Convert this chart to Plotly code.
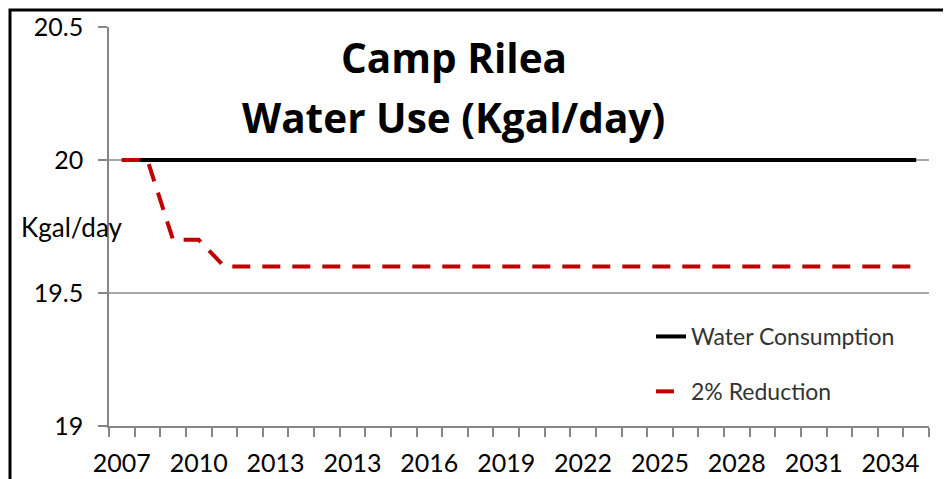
import plotly.graph_objects as go

# ---- data ----
year_labels = ["2007", "2008", "2009", "2010", "2011", "2012", "2013",
               "2011", "2012", "2013", "2014", "2015", "2016", "2017",
               "2018", "2019", "2020", "2021", "2022", "2023", "2024",
               "2025", "2026", "2027", "2028", "2029", "2030", "2031",
               "2032", "2033", "2034", "2035"]
water_consumption = [20, 20, 20, 20, 20, 20, 20, 20, 20, 20, 20, 20, 20, 20,
                     20, 20, 20, 20, 20, 20, 20, 20, 20, 20, 20, 20, 20, 20,
                     20, 20, 20, 20]
reduction_2pct = [20, 20, 19.7, 19.7, 19.6, 19.6, 19.6, 19.6, 19.6, 19.6,
                  19.6, 19.6, 19.6, 19.6, 19.6, 19.6, 19.6, 19.6, 19.6, 19.6,
                  19.6, 19.6, 19.6, 19.6, 19.6, 19.6, 19.6, 19.6, 19.6, 19.6,
                  19.6, 19.6]
y_ticks = [19, 19.5, 20, 20.5]
title_lines = ["Camp Rilea", "Water Use (Kgal/day)"]
y_label = "Kgal/day"

x_idx = list(range(len(year_labels)))
label_idx = x_idx[::3]
label_text = [year_labels[i] for i in label_idx]

# page body has an 8px margin; work in screen pixels and convert
OFF = 8
W, H = 951 - OFF, 479 - OFF
PX0, PX1, PY0, PY1 = 109, 929, 27, 426        # plot area on screen
L, R, T, B = PX0 - OFF, W - (PX1 - OFF), PY0 - OFF, H - (PY1 - OFF)
pw, ph = PX1 - PX0, PY1 - PY0

def px_x(p):
    return (p - PX0) / pw

def px_y(p):
    return (PY1 - p) / ph

FONT = "Lato"
TFONT = "Open Sans"
AX = "#868686"

fig = go.Figure()
fig.add_trace(go.Scatter(
    x=x_idx, y=water_consumption, mode="lines", name="Water Consumption",
    line=dict(color="black", width=4), legendgroup="a"))
fig.add_trace(go.Scatter(
    x=x_idx, y=reduction_2pct, mode="lines", name="2% Reduction",
    line=dict(color="#C00000", width=4, dash="18px,12px"), legendgroup="b"))

fig.update_layout(
    width=W, height=H,
    margin=dict(l=L, r=R, t=T, b=B, autoexpand=False),
    paper_bgcolor="white", plot_bgcolor="white",
    font=dict(family=FONT, color="black"),
    showlegend=True,
    legend=dict(
        x=px_x(651), y=px_y(315), xanchor="left", yanchor="top",
        bgcolor="rgba(0,0,0,0)", font=dict(size=23, color="#333333", family=FONT),
        traceorder="grouped", tracegroupgap=22),
    xaxis=dict(
        range=[-0.5, len(year_labels) - 0.5], automargin=False,
        tickmode="array", tickvals=label_idx, ticktext=label_text,
        ticks="", showgrid=False, zeroline=False,
        showline=True, linecolor=AX, linewidth=1.5,
        tickfont=dict(size=25, family=FONT, color="black"),
        ticklabelstandoff=14,
        minor=dict(tickmode="linear", tick0=-0.5, dtick=1, ticks="outside",
                   ticklen=9, tickcolor=AX, tickwidth=1.5, showgrid=False),
    ),
    yaxis=dict(
        range=[19, 20.5], automargin=False, tickmode="array", tickvals=y_ticks,
        ticktext=[f"{v:g}" for v in y_ticks],
        ticks="outside", ticklen=9, tickcolor=AX, tickwidth=1.5,
        showgrid=True, gridcolor="#A6A6A6", gridwidth=1.5,
        zeroline=False, showline=True, linecolor=AX, linewidth=1.5,
        tickfont=dict(size=25, family=FONT, color="black"),
        ticklabelstandoff=10,
    ),
    annotations=[
        dict(text=title_lines[0], xref="paper", yref="paper",
             x=px_x(454), y=px_y(57), xanchor="center", yanchor="middle",
             showarrow=False, font=dict(size=40.5, family=TFONT, color="black", weight="bold")),
        dict(text=title_lines[1], xref="paper", yref="paper",
             x=px_x(453), y=px_y(117), xanchor="center", yanchor="middle",
             showarrow=False, font=dict(size=40.5, family=TFONT, color="black", weight="bold")),
        dict(text=y_label, xref="paper", yref="paper",
             x=px_x(19), y=px_y(227), xanchor="left", yanchor="middle",
             showarrow=False, font=dict(size=26, family=FONT, color="black")),
    ],
    shapes=[
        dict(type="rect", xref="paper", yref="paper",
             x0=px_x(10), x1=px_x(980), y0=px_y(510), y1=px_y(10),
             line=dict(color="black", width=3), fillcolor="rgba(0,0,0,0)",
             layer="above"),
    ],
)

fig.write_html("out.html")
